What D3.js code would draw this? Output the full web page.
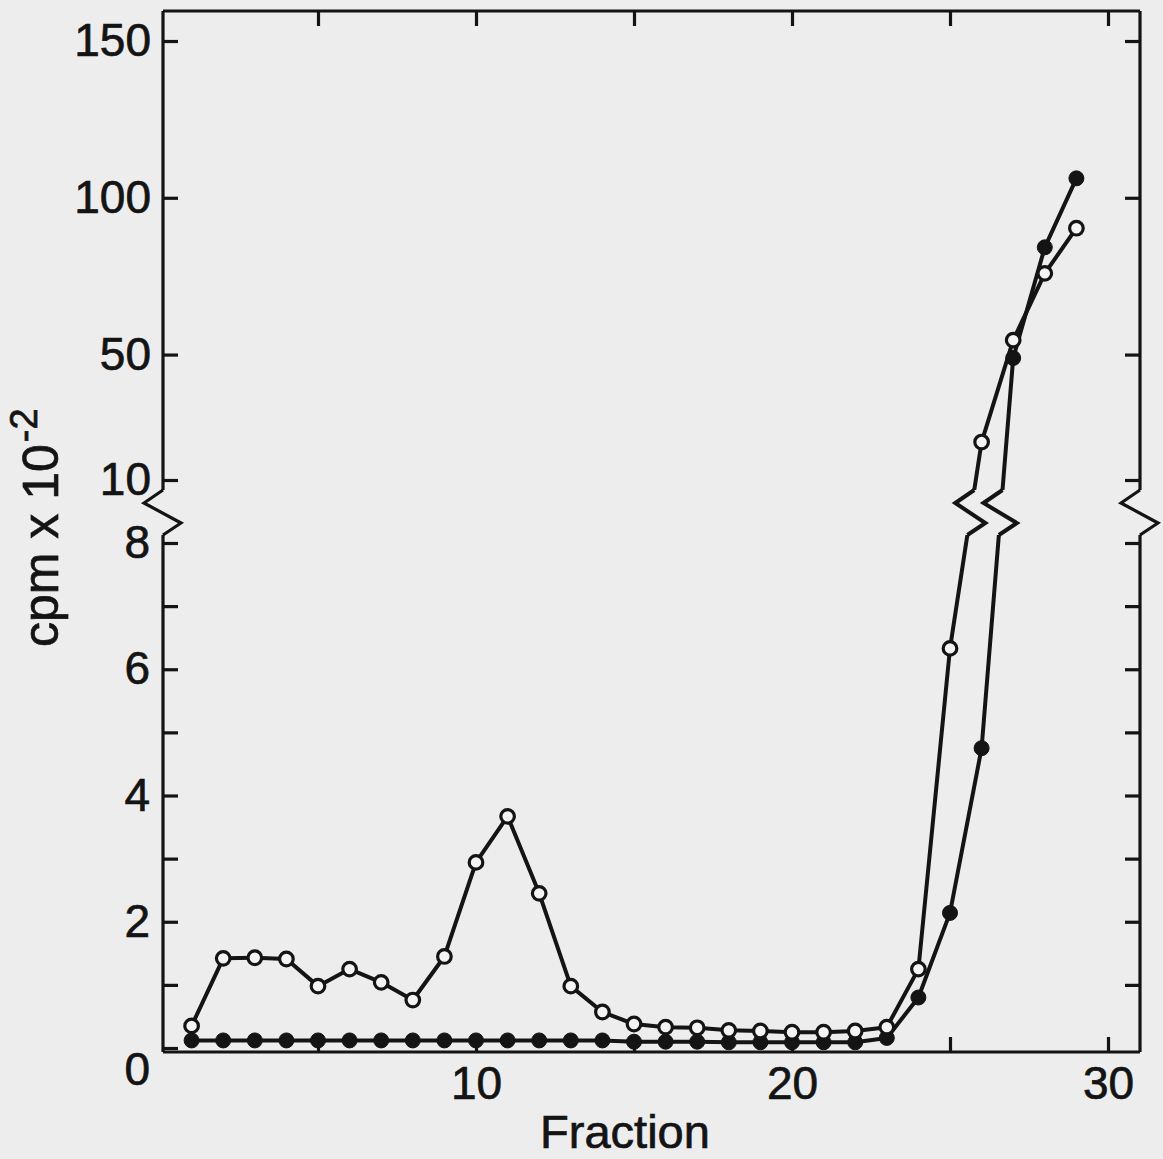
<!DOCTYPE html>
<html><head><meta charset="utf-8">
<script src="https://cdn.jsdelivr.net/npm/d3@7"></script>
<style>body{margin:0;background:#ededed}svg{display:block}</style>
</head><body>
<script>
// ---- data ----
const fractions = [1,2,3,4,5,6,7,8,9,10,11,12,13,14,15,16,17,18,19,20,21,22,23,24,25,26,27,28,29];
const openValues = [0.35,1.42,1.43,1.41,0.98,1.25,1.04,0.76,1.45,2.94,3.67,2.45,0.98,0.57,0.38,0.33,0.32,0.28,0.27,0.25,0.25,0.27,0.33,1.25,6.33,22.1,54.6,75.9,90.3];
const filledValues = [0.12,0.12,0.12,0.12,0.12,0.12,0.12,0.12,0.12,0.12,0.12,0.12,0.12,0.12,0.1,0.1,0.1,0.09,0.09,0.09,0.09,0.09,0.16,0.8,2.14,4.75,48.9,84.2,106.2];
const xTicks = [5,10,15,20,25,30];
const xTickLabels = [10,20,30];
const lowerTicks = [0,1,2,3,4,5,6,7,8];
const lowerTickLabels = [0,2,4,6,8];
const upperTicks = [10,50,100,150];
const xTitle = "Fraction";
const yTitle = "cpm x 10";
const yTitleSup = "-2";

// ---- layout ----
const W=1163,H=1159;
const L=163,R=1140,T=11,B=1052,BRK_HI=490,BRK_LO=535;
const INK="#141414", BG="#ededed", FONT="'Liberation Sans', Arial, Helvetica, sans-serif";
const svg=d3.select("body").append("svg").attr("width",W).attr("height",H);
svg.append("rect").attr("width",W).attr("height",H).attr("fill",BG);

const x=d3.scaleLinear().domain([0,30]).range([160,1108]);
const yLow=d3.scaleLinear().domain([0,8]).range([1048,543]);
const yUp=d3.scaleLinear().domain([10,150]).range([480,41]);
const yPos=v=>v<=9?yLow(v):yUp(v);
const line=d3.line();

function zig(xa,xb){return [[xa,BRK_LO],[xa+18,BRK_LO-12],[xb-19,BRK_HI+13],[xb,BRK_HI]];}

// frame
const frame=svg.append("g").attr("fill","none").attr("stroke",INK).attr("stroke-width",3.2);
frame.append("path").attr("d",line([[L,T],[R,T]]));
frame.append("path").attr("d",line([[L,B],[R,B]]));
[L,R].forEach(xx=>{
  frame.append("path").attr("d",line([[xx,B],[xx,BRK_LO]]));
  frame.append("path").attr("d",line([[xx,BRK_HI],[xx,T]]));
  frame.append("path").attr("d",line(zig(xx,xx))).attr("stroke-linejoin","miter");
});

// axes
function styleAxis(g){
  g.select(".domain").remove();
  g.selectAll(".tick line").attr("stroke",INK).attr("stroke-width",3.2);
  g.selectAll(".tick text").attr("fill",INK).attr("stroke",INK).attr("stroke-width",0.7)
    .style("font-family",FONT).style("font-size","46px");
}
svg.append("g").attr("transform",`translate(${L},0)`)
  .call(d3.axisLeft(yLow).tickValues(lowerTicks).tickSize(-15).tickPadding(13)
    .tickFormat(d=>lowerTickLabels.includes(d)?d:""))
  .call(styleAxis)
  .call(g=>g.selectAll(".tick text").filter(d=>d===0).attr("dy","0.8em"));
svg.append("g").attr("transform",`translate(${L},0)`)
  .call(d3.axisLeft(yUp).tickValues(upperTicks).tickSize(-15).tickPadding(12)).call(styleAxis);
svg.append("g").attr("transform",`translate(${R},0)`)
  .call(d3.axisRight(yLow).tickValues(lowerTicks.filter(d=>d>0)).tickSize(-15).tickFormat("")).call(styleAxis);
svg.append("g").attr("transform",`translate(${R},0)`)
  .call(d3.axisRight(yUp).tickValues(upperTicks).tickSize(-15).tickFormat("")).call(styleAxis);
svg.append("g").attr("transform",`translate(0,${B})`)
  .call(d3.axisBottom(x).tickValues(xTicks).tickSize(-15).tickPadding(14)
    .tickFormat(d=>xTickLabels.includes(d)?d:""))
  .call(styleAxis);
svg.append("g").attr("transform",`translate(0,${T})`)
  .call(d3.axisTop(x).tickValues(xTicks).tickSize(-15).tickFormat("")).call(styleAxis);

// titles
svg.append("text").attr("x",625).attr("y",1148).attr("text-anchor","middle")
  .style("font-family",FONT).style("font-size","47px").attr("fill",INK)
  .attr("stroke",INK).attr("stroke-width",0.7).text(xTitle);
const yt=svg.append("text").attr("transform","translate(58,647) rotate(-90)")
  .style("font-family",FONT).style("font-size","50px").attr("fill",INK)
  .attr("stroke",INK).attr("stroke-width",0.7);
yt.append("tspan").text(yTitle);
yt.append("tspan").attr("dx","2").attr("dy","-0.55em").style("font-size","38px").text(yTitleSup);

// clip for lines (break band)
const defs=svg.append("defs");
const cp=defs.append("clipPath").attr("id","brk");
cp.append("rect").attr("x",0).attr("y",0).attr("width",W).attr("height",BRK_HI);
cp.append("rect").attr("x",0).attr("y",BRK_LO).attr("width",W).attr("height",H-BRK_LO);

function drawSeries(vals,filled){
  const pts=fractions.map((f,i)=>[x(f),yPos(vals[i])]);
  const g=svg.append("g");
  g.append("path").attr("d",line(pts)).attr("clip-path","url(#brk)")
    .attr("fill","none").attr("stroke",INK).attr("stroke-width",4).attr("stroke-linejoin","round");
  for(let i=0;i<vals.length-1;i++){
    const a=vals[i]<=9, b=vals[i+1]<=9;
    if(a!==b){
      const [x1,y1]=pts[i],[x2,y2]=pts[i+1];
      const xa=x1+(x2-x1)*(BRK_LO-y1)/(y2-y1);
      const xb=x1+(x2-x1)*(BRK_HI-y1)/(y2-y1);
      g.append("path").attr("d",line(zig(xa,xb))).attr("fill","none")
        .attr("stroke",INK).attr("stroke-width",4).attr("stroke-linejoin","miter");
    }
  }
  g.selectAll("circle").data(pts).join("circle")
    .attr("cx",d=>d[0]).attr("cy",d=>d[1]).attr("r",filled?7.5:6.8)
    .attr("fill",filled?INK:"#f4f4f4").attr("stroke",INK).attr("stroke-width",filled?1:3.2);
}
drawSeries(filledValues,true);
drawSeries(openValues,false);
</script>
</body></html>
